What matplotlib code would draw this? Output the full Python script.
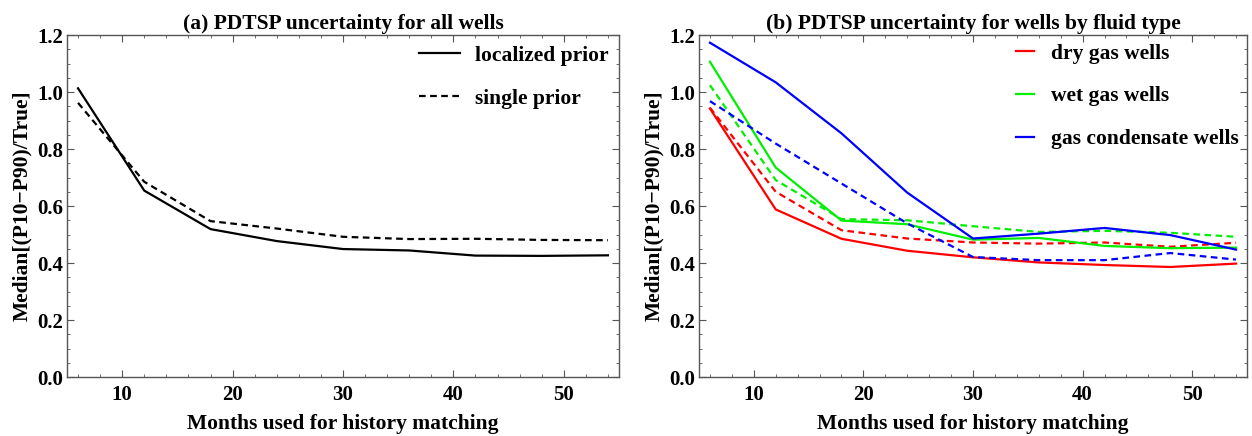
import matplotlib
matplotlib.use("Agg")
import matplotlib.pyplot as plt
from matplotlib.ticker import MultipleLocator, FormatStrFormatter

plt.rcParams["font.family"] = ["Liberation Serif", "DejaVu Serif"]
plt.rcParams["font.weight"] = "bold"

months = [6, 12, 18, 24, 30, 36, 42, 48, 54]

# (a) all wells
all_localized = [1.013, 0.654, 0.519, 0.477, 0.449, 0.444, 0.426, 0.425, 0.427]
all_single = [0.962, 0.685, 0.547, 0.521, 0.492, 0.484, 0.485, 0.481, 0.480]

# (b) by fluid type: localized prior (solid) and single prior (dashed)
dry_localized = [0.942, 0.588, 0.485, 0.443, 0.420, 0.402, 0.393, 0.386, 0.398]
wet_localized = [1.106, 0.735, 0.549, 0.536, 0.482, 0.488, 0.460, 0.452, 0.454]
cond_localized = [1.173, 1.034, 0.855, 0.647, 0.486, 0.503, 0.523, 0.498, 0.447]
dry_single = [0.945, 0.650, 0.515, 0.486, 0.472, 0.468, 0.472, 0.457, 0.471]
wet_single = [1.024, 0.691, 0.554, 0.550, 0.529, 0.509, 0.513, 0.506, 0.492]
cond_single = [0.968, 0.819, 0.679, 0.539, 0.421, 0.410, 0.410, 0.435, 0.412]

fluid_labels = ["dry gas wells", "wet gas wells", "gas condensate wells"]
fluid_colors = ["#ff0000", "#00ee00", "#0000ff"]

titles = ["(a) PDTSP uncertainty for all wells",
          "(b) PDTSP uncertainty for wells by fluid type"]
xlabel = "Months used for history matching"
ylabel = "Median[(P10\u2212P90)/True]"

fig = plt.figure(figsize=(12.52, 4.36), dpi=100)
ax1 = fig.add_axes([0.0535, 0.1353, 0.4409, 0.7844])
ax2 = fig.add_axes([0.5583, 0.1353, 0.4377, 0.7844])

FS = 15.5
TFS = 15
dash = (0, (3, 2))

ax1.plot(months, all_localized, color="black", lw=1.6, label="localized prior")
ax1.plot(months, all_single, color="black", lw=1.6, ls=dash, label="single prior")
ax1.legend(loc="upper right", frameon=False, fontsize=FS, handlelength=1.9,
           handletextpad=0.7, labelspacing=1.05, borderaxespad=0.1)

for loc, sgl, lab, col in zip([dry_localized, wet_localized, cond_localized],
                              [dry_single, wet_single, cond_single],
                              fluid_labels, fluid_colors):
    ax2.plot(months, loc, color=col, lw=1.6, label=lab)
    ax2.plot(months, sgl, color=col, lw=1.6, ls=dash)
ax2.legend(loc="upper right", frameon=False, fontsize=FS, handlelength=0.85,
           handletextpad=0.75, labelspacing=1.05, borderaxespad=0.0)

for ax, title in zip([ax1, ax2], titles):
    ax.set_xlim(5, 55)
    ax.set_ylim(0, 1.2)
    ax.xaxis.set_major_locator(MultipleLocator(10))
    ax.xaxis.set_minor_locator(MultipleLocator(2))
    ax.yaxis.set_major_locator(MultipleLocator(0.2))
    ax.yaxis.set_minor_locator(MultipleLocator(0.05))
    ax.yaxis.set_major_formatter(FormatStrFormatter("%.1f"))
    ax.tick_params(which="both", direction="in", top=True, right=True,
                   labelsize=TFS, color="#555555")
    ax.tick_params(which="major", length=5, width=0.8)
    ax.tick_params(which="minor", length=2.5, width=0.6)
    ax.tick_params(axis="x", pad=6)
    ax.tick_params(axis="y", pad=3)
    for sp in ax.spines.values():
        sp.set_color("#555555")
        sp.set_linewidth(1.0)
    ax.set_title(title, fontsize=FS, fontweight="bold", pad=4)
    ax.set_xlabel(xlabel, fontsize=FS, fontweight="bold", labelpad=6)
    ax.set_ylabel(ylabel, fontsize=FS, fontweight="bold", labelpad=3)

fig.savefig("out.png", dpi=100)
